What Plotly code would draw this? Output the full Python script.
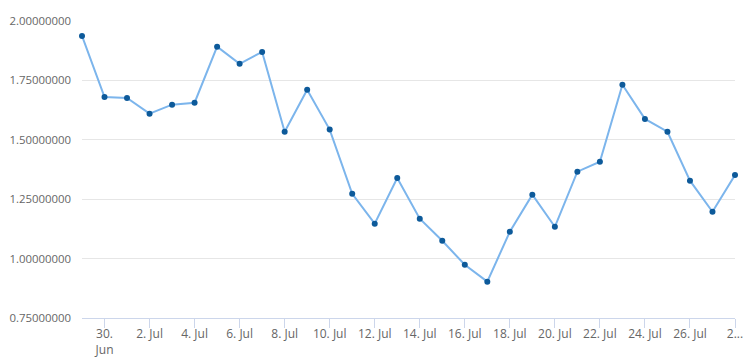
import plotly.graph_objects as go

dates = [
    "2023-06-29", "2023-06-30", "2023-07-01", "2023-07-02", "2023-07-03",
    "2023-07-04", "2023-07-05", "2023-07-06", "2023-07-07", "2023-07-08",
    "2023-07-09", "2023-07-10", "2023-07-11", "2023-07-12", "2023-07-13",
    "2023-07-14", "2023-07-15", "2023-07-16", "2023-07-17", "2023-07-18",
    "2023-07-19", "2023-07-20", "2023-07-21", "2023-07-22", "2023-07-23",
    "2023-07-24", "2023-07-25", "2023-07-26", "2023-07-27", "2023-07-28",
]
values = [
    1.937, 1.680, 1.676, 1.610, 1.648, 1.656, 1.892, 1.820, 1.870, 1.534,
    1.711, 1.543, 1.273, 1.147, 1.339, 1.168, 1.075, 0.974, 0.903, 1.113,
    1.269, 1.134, 1.366, 1.408, 1.732, 1.588, 1.534, 1.328, 1.197, 1.352,
]
x_tick_vals = [
    "2023-06-30", "2023-07-02", "2023-07-04", "2023-07-06", "2023-07-08",
    "2023-07-10", "2023-07-12", "2023-07-14", "2023-07-16", "2023-07-18",
    "2023-07-20", "2023-07-22", "2023-07-24", "2023-07-26", "2023-07-28",
]
x_tick_text = [
    "30.<br>Jun", "2. Jul", "4. Jul", "6. Jul", "8. Jul", "10. Jul", "12. Jul",
    "14. Jul", "16. Jul", "18. Jul", "20. Jul", "22. Jul", "24. Jul", "26. Jul",
    "2...",
]
y_tick_vals = [0.75, 1.0, 1.25, 1.5, 1.75, 2.0]
y_tick_text = ["0.75000000", "1.00000000", "1.25000000", "1.50000000",
               "1.75000000", "2.00000000"]

fig = go.Figure()
fig.add_trace(go.Scatter(
    x=dates, y=values, mode="lines+markers",
    line=dict(color="#7cb5ec", width=2),
    marker=dict(color="#0d5a9a", size=6),
    hoverinfo="x+y",
    cliponaxis=False,
))

# page body has an 8px default margin, so the figure is sized/offset to compensate
fig.update_layout(
    width=747, height=351,
    margin=dict(l=74, r=20, t=13, b=41),
    paper_bgcolor="white", plot_bgcolor="white",
    showlegend=False,
    font=dict(family="Open Sans", size=12, color="#666666"),
)
fig.update_xaxes(
    type="date", automargin=False,
    range=[dates[0], dates[-1]],
    tickvals=x_tick_vals, ticktext=x_tick_text,
    showgrid=False, zeroline=False,
    showline=True, linecolor="#ccd6eb", linewidth=1,
    ticks="outside", ticklen=9, tickcolor="#ccd6eb",
    ticklabelstandoff=-4,
    tickfont=dict(size=12, color="#666666"),
)
fig.update_yaxes(
    automargin=False,
    range=[0.75, 2.0],
    tickvals=y_tick_vals, ticktext=y_tick_text,
    showgrid=True, gridcolor="#e6e6e6", gridwidth=1,
    zeroline=False, showline=False,
    ticks="", ticklabelstandoff=10,
    tickfont=dict(size=11.4, color="#666666"),
)

fig.write_html("out.html")
